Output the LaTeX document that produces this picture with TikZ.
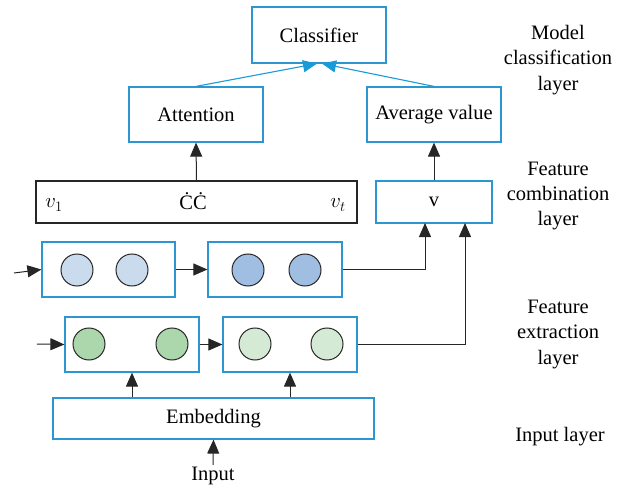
\documentclass[tikz,border=0pt]{standalone}
\usepackage{fontspec}
\setmainfont{Liberation Serif}
\usetikzlibrary{arrows.meta}

\definecolor{boxblue}{RGB}{43,150,208}
\definecolor{tipblue}{RGB}{26,154,214}
\definecolor{cellA}{RGB}{203,219,238}
\definecolor{cellB}{RGB}{160,190,226}
\definecolor{cellC}{RGB}{172,214,172}
\definecolor{cellD}{RGB}{212,234,212}

\tikzset{
  layerbox/.style={draw=boxblue, line width=1.2pt, minimum width=#1, inner sep=0pt},
  layerbox/.default=134pt,
  cell/.style={circle, draw=black!85, line width=1pt, minimum size=32pt, inner sep=0pt, fill=#1},
  arr/.style={line width=1pt, black!85, -{Triangle[length=14pt,width=12pt]}},
  bluearr/.style={line width=1.1pt, tipblue, -{Triangle[length=14pt,width=12pt]}},
  sidetext/.style={align=center}
}

\begin{document}
\begin{tikzpicture}[x=1pt,y=-1pt,font=\fontsize{20.5}{25.5}\selectfont]
        \useasboundingbox (0,0) rectangle (626,489);

        \node[layerbox, minimum height=56pt] (Cls) at (319,35) {Classifier};
        \node[layerbox, minimum height=55pt] (Att) at (196,114.5) {Attention};
        \node[layerbox, minimum height=55pt] (Avg) at (434,114.5) {Average value};

        \node[draw=black!85, line width=1.2pt, minimum width=321pt, minimum height=42pt] (Vec) at (196.5,202) {};
        \node (V1) at (54,205) {\fontsize{22}{26}\selectfont$v_1$};
        \node (Dots) at (193,201) {ĊĊ};
        \node (Vt) at (338,205) {\fontsize{22}{26}\selectfont$v_t$};
        \node[layerbox=116pt, minimum height=42pt] (V) at (434,202) {v};

        \node[layerbox=133pt, minimum height=55pt] (U1) at (108.5,269.5) {};
        \node[layerbox, minimum height=55pt] (U2) at (275,269.5) {};
        \node[layerbox, minimum height=55pt] (L1) at (132,344.5) {};
        \node[layerbox, minimum height=55pt] (L2) at (290,344.5) {};

        \node[cell=cellA] (U1a) at (77,270) {};
        \node[cell=cellA] (U1b) at (132,270) {};
        \node[cell=cellB] (U2a) at (248,270) {};
        \node[cell=cellB] (U2b) at (305,270) {};
        \node[cell=cellC] (L1a) at (89,344) {};
        \node[cell=cellC] (L1b) at (172,344) {};
        \node[cell=cellD] (L2a) at (255,344) {};
        \node[cell=cellD] (L2b) at (327,344) {};

        \node[layerbox=321pt, minimum height=41pt] (Emb) at (213.5,418.5) {Embedding};
        \node[inner sep=2pt] (In) at (213,476) {Input};

        \node[sidetext] (ML) at (558,60) {Model\\classification\\layer};
        \node[sidetext] (FC) at (558,196) {Feature\\combination\\layer};
        \node[sidetext] (FE) at (558,334) {Feature\\extraction\\layer};
        \node[sidetext] (IL) at (560,437) {Input layer};

        \coordinate (VL) at (425,223);
        \coordinate (VR) at (465,223);
        \coordinate (UIn) at (14,273);
        \coordinate (LIn) at (37,344);

        \draw[bluearr] (Att.north) -- ([xshift=-2pt]Cls.south);
        \draw[bluearr] (Avg.north) -- ([xshift=3pt]Cls.south);
        \draw[arr] (Vec.north) -- (Att.south);
        \draw[arr] (V.north) -- (Avg.south);

        \draw[arr] (U2.east) -| (VL);
        \draw[arr] (L2.east) -| (VR);
        \draw[arr] (UIn) -- (U1.west);
        \draw[arr] (U1.east) -- (U2.west);
        \draw[arr] (LIn) -- (L1.west);
        \draw[arr] (L1.east) -- (L2.west);

        \draw[arr] (Emb.north -| L1) -- (L1.south);
        \draw[arr] (Emb.north -| L2) -- (L2.south);
        \draw[arr] (In.north) -- (Emb.south);
      \end{tikzpicture}
\end{document}
